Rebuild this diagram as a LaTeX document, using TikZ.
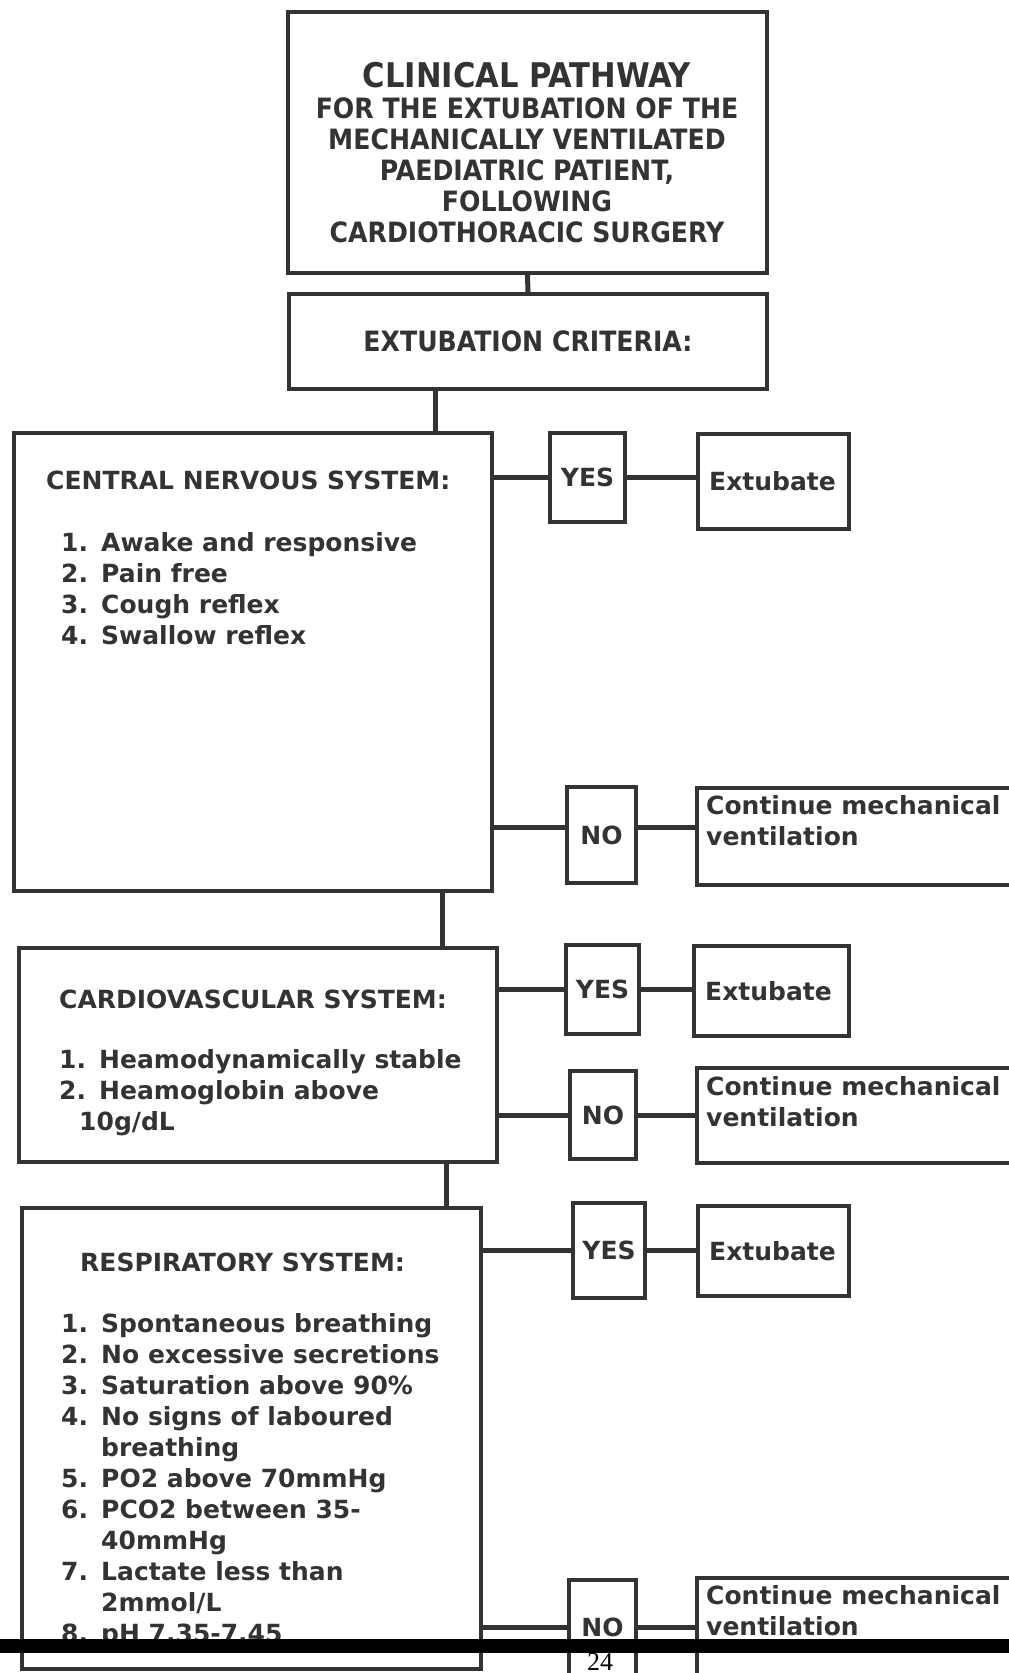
\documentclass[tikz,border=0pt]{standalone}
\usepackage{fontspec}
\setmainfont{DejaVu Sans}
\newfontfamily\condfont{DejaVu Sans Condensed}
\newfontfamily\pagefont{Liberation Serif}
\usetikzlibrary{fit}
\definecolor{ink}{HTML}{333333}
\tikzset{
  box/.style={draw=ink, line width=4pt, inner sep=0pt},
  link/.style={draw=ink, line width=5pt},
  txt/.style={text=ink, inner sep=0pt, align=left,
    font=\bfseries\fontsize{25}{31}\selectfont},
  cond/.style={txt, font=\condfont\bfseries\fontsize{28}{31}\selectfont},
}
\newcommand{\itm}[2]{\makebox[1.6em][l]{#1}#2}
\newcommand{\more}[1]{\hspace*{1.6em}#1}
\begin{document}
\begin{tikzpicture}[x=1pt,y=-1pt]
\useasboundingbox (0,0) rectangle (1009,1673);
\clip (0,0) rectangle (1009,1673);

% title and criteria
\node[box, fit={(288,12) (767,273)}] (title) {};
\node[box, fit={(289,294) (767,389)}] (crit) {};
\node[cond, align=center, anchor=north] (titletxt) at (527,62)
  {{\fontsize{34}{34}\selectfont CLINICAL PATHWAY}\\FOR THE EXTUBATION OF THE\\
   MECHANICALLY VENTILATED\\PAEDIATRIC PATIENT,\\FOLLOWING\\CARDIOTHORACIC SURGERY};
\node[cond] (crittxt) at (crit) {EXTUBATION CRITERIA:};
\draw[link] (title.south) -- (crit.north);

% central nervous system
\node[box, fit={(14,433) (492,891)}] (cns) {};
\node[txt, anchor=west] (cnshead) at (46,480) {CENTRAL NERVOUS SYSTEM:};
\node[txt, anchor=north west] (cnslist) at (61,532)
  {\itm{1.}{Awake and responsive}\\\itm{2.}{Pain free}\\
   \itm{3.}{Cough reflex}\\\itm{4.}{Swallow reflex}};
\node[box, fit={(550,433) (625,522)}] (yes1) {};
\node[txt] (yes1txt) at (yes1) {YES};
\node[box, fit={(698,434) (849,529)}] (ext1) {};
\node[txt, anchor=west] (ext1txt) at ([xshift=13pt]ext1.west) {Extubate};
\node[box, fit={(567,787) (636,883)}] (no1) {};
\node[txt] (no1txt) at (no1) {NO};
\node[box, fit={(697,788) (1030,885)}] (cont1) {};
\node[txt, anchor=north west] (cont1txt) at ([xshift=11pt,yshift=-9pt]cont1.north west)
  {Continue mechanical\\ventilation};
\draw[link] ([xshift=148pt]crit.south west) -- ([xshift=148pt]crit.south west |- cns.north);
\draw[link] (yes1.west -| cns.east) -- (yes1.west);
\draw[link] (yes1.east) -- (yes1.east -| ext1.west);
\draw[link] ([yshift=8pt]no1.west -| cns.east) -- ([yshift=8pt]no1.west);
\draw[link] ([yshift=8pt]no1.east) -- ([yshift=8pt]no1.east -| cont1.west);

% cardiovascular system
\node[box, fit={(19,948) (497,1162)}] (cvs) {};
\node[txt, anchor=west] (cvshead) at (59,999) {CARDIOVASCULAR SYSTEM:};
\node[txt, anchor=north west] (cvslist) at (59,1049)
  {\itm{1.}{Heamodynamically stable}\\\itm{2.}{Heamoglobin above}\\
   \hspace*{0.8em}10g/dL};
\node[box, fit={(566,945) (639,1034)}] (yes2) {};
\node[txt] (yes2txt) at (yes2) {YES};
\node[box, fit={(694,946) (849,1036)}] (ext2) {};
\node[txt, anchor=west] (ext2txt) at ([xshift=13pt]ext2.west) {Extubate};
\node[box, fit={(570,1071) (636,1159)}] (no2) {};
\node[txt] (no2txt) at (no2) {NO};
\node[box, fit={(697,1068) (1030,1163)}] (cont2) {};
\node[txt, anchor=north west] (cont2txt) at ([xshift=11pt,yshift=-10pt]cont2.north west)
  {Continue mechanical\\ventilation};
\draw[link] ([xshift=430pt]cns.south west) -- ([xshift=430pt]cns.south west |- cvs.north);
\draw[link] (yes2.west -| cvs.east) -- (yes2.west);
\draw[link] (yes2.east) -- (yes2.east -| ext2.west);
\draw[link] (no2.west -| cvs.east) -- (no2.west);
\draw[link] (no2.east) -- (no2.east -| cont2.west);

% respiratory system
\node[box, fit={(22,1208) (481,1669)}] (rs) {};
\node[txt, anchor=west] (rshead) at (80,1262) {RESPIRATORY SYSTEM:};
\node[txt, anchor=north west] (rslist) at (61,1313)
  {\itm{1.}{Spontaneous breathing}\\\itm{2.}{No excessive secretions}\\
   \itm{3.}{Saturation above 90\%}\\\itm{4.}{No signs of laboured}\\\more{breathing}\\
   \itm{5.}{PO2 above 70mmHg}\\\itm{6.}{PCO2 between 35-}\\\more{40mmHg}\\
   \itm{7.}{Lactate less than}\\\more{2mmol/L}\\\itm{8.}{pH 7.35-7.45}};
\node[box, fit={(573,1203) (645,1298)}] (yes3) {};
\node[txt] (yes3txt) at (yes3) {YES};
\node[box, fit={(698,1206) (849,1296)}] (ext3) {};
\node[txt, anchor=west] (ext3txt) at ([xshift=13pt]ext3.west) {Extubate};
\node[box, fit={(569,1580) (636,1690)}] (no3) {};
\node[txt] (no3txt) at ([yshift=8pt]no3) {NO};
\node[box, fit={(697,1578) (1030,1690)}] (cont3) {};
\node[txt, anchor=north west] (cont3txt) at ([xshift=11pt,yshift=-9pt]cont3.north west)
  {Continue mechanical\\ventilation};
\draw[link] ([xshift=429pt]cvs.south west) -- ([xshift=429pt]cvs.south west |- rs.north);
\draw[link] (yes3.west -| rs.east) -- (yes3.west);
\draw[link] (yes3.east) -- (yes3.east -| ext3.west);
\draw[link] ([yshift=8pt]no3.west -| rs.east) -- ([yshift=8pt]no3.west);
\draw[link] ([yshift=8pt]no3.east) -- ([yshift=8pt]no3.east -| cont3.west);

% page edge
\node[inner sep=0pt, font=\pagefont\fontsize{26}{26}\selectfont] (pagenum) at (600,1662) {24};
\fill[black] (0,1639) rectangle (1009,1653);
\end{tikzpicture}
\end{document}
